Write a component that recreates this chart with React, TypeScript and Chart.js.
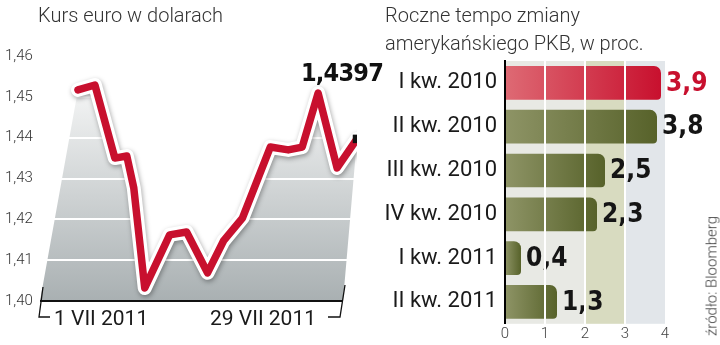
import React, { useEffect, useRef } from "react";
import { Chart, registerables } from "chart.js";

Chart.register(...registerables);

// ---- Left chart: EUR/USD in July 2011 ----
const rateDays = [1, 2.7, 4.7, 5.9, 6.6, 7.7, 10.2, 11.9, 14, 15.6, 17.5, 20.3, 22.1, 23.5, 25.1, 27, 29];
const rateValues = [1.4517, 1.4529, 1.435, 1.4355, 1.4277, 1.4032, 1.4162, 1.4169, 1.4069, 1.4147, 1.4203, 1.4377, 1.437, 1.4377, 1.4509, 1.4326, 1.4397];
const rateMin = 1.4;
const rateMax = 1.46;
const rateStep = 0.01;
const dateLabels = ["1 VII 2011", "29 VII 2011"];
const lastValueLabel = "1,4397";
const leftTitle = "Kurs euro w dolarach";

// ---- Right chart: US GDP growth ----
const quarters = ["I kw. 2010", "II kw. 2010", "III kw. 2010", "IV kw. 2010", "I kw. 2011", "II kw. 2011"];
const gdpValues = [3.9, 3.8, 2.5, 2.3, 0.4, 1.3];
const gdpMin = 0;
const gdpMax = 4;
const rightTitle = ["Roczne tempo zmiany", "amerykańskiego PKB, w proc."];
const sourceText = "źródło: Bloomberg";

const LIGHT = "Roboto, 'Noto Sans', sans-serif";
const NARROW = "'Liberation Sans Narrow', 'DejaVu Sans Condensed', 'Roboto', sans-serif";
const RED = "#c8102e";

const comma = (v: number, d: number) => v.toFixed(d).replace(".", ",");

export default function App() {
  const leftRef = useRef<HTMLCanvasElement | null>(null);
  const rightRef = useRef<HTMLCanvasElement | null>(null);

  useEffect(() => {
    const areaPlugin = {
      id: "area",
      beforeDraw(chart: any) {
        const { ctx, chartArea, scales } = chart;
        const x = scales.x;
        const y = scales.y;
        const pts = rateDays.map((d, i) => [x.getPixelForValue(d), y.getPixelForValue(rateValues[i])]);
        const last = pts[pts.length - 1];
        ctx.save();
        const g = ctx.createLinearGradient(0, y.getPixelForValue(1.452), 0, chartArea.bottom);
        g.addColorStop(0, "#f4f5f5");
        g.addColorStop(1, "#a9b0b2");
        ctx.beginPath();
        ctx.moveTo(chartArea.left, chartArea.bottom);
        pts.forEach((p) => ctx.lineTo(p[0], p[1]));
        ctx.lineTo(last[0] - 14, chartArea.bottom);
        ctx.closePath();
        ctx.fillStyle = g;
        ctx.fill();
        ctx.restore();
      },
      afterDraw(chart: any) {
        const { ctx, chartArea, scales } = chart;
        const x = scales.x;
        const b = chartArea.bottom;
        const L = chartArea.left;
        const R = x.getPixelForValue(rateDays[rateDays.length - 1]) - 14;
        ctx.save();
        ctx.strokeStyle = "#111";
        ctx.lineWidth = 2;
        ctx.beginPath();
        ctx.moveTo(L, b);
        ctx.lineTo(R, b);
        ctx.stroke();
        ctx.lineWidth = 1.3;
        ctx.beginPath();
        ctx.moveTo(L + 3, b - 14);
        ctx.lineTo(L - 1, b + 16);
        ctx.lineTo(L + 10, b + 16);
        ctx.stroke();
        ctx.beginPath();
        ctx.moveTo(R + 2, b - 16);
        ctx.lineTo(R - 3, b + 16);
        ctx.lineTo(R - 15, b + 16);
        ctx.stroke();
        ctx.restore();
      },
      beforeDatasetDraw(chart: any, args: any) {
        if (args.index === 0) {
          const ctx = chart.ctx;
          ctx.save();
          ctx.shadowColor = "rgba(0,0,0,0.35)";
          ctx.shadowBlur = 5;
          ctx.shadowOffsetX = 1;
          ctx.shadowOffsetY = 2;
        }
      },
      afterDatasetDraw(chart: any, args: any) {
        if (args.index === 0) chart.ctx.restore();
      },
    };

    const points = rateDays.map((d, i) => ({ x: d, y: rateValues[i] }));
    const lastIdx = points.length - 1;

    const left = new Chart(leftRef.current as HTMLCanvasElement, {
      type: "line",
      data: {
        datasets: [
          {
            data: points.map((p) => ({ ...p })),
            order: 2,
            borderColor: "#ffffff",
            borderWidth: 14,
            pointRadius: 0,
            borderCapStyle: "round",
            borderJoinStyle: "round",
            fill: false,
            tension: 0,
          },
          {
            data: points.map((p) => ({ ...p })),
            order: 1,
            borderColor: RED,
            borderWidth: 7.5,
            pointRadius: (c: any) => (c.dataIndex === lastIdx ? 6 : 0),
            pointStyle: "rect",
            pointBackgroundColor: "#111",
            pointBorderColor: "#111",
            pointBorderWidth: 0,
            borderCapStyle: "round",
            borderJoinStyle: "round",
            fill: false,
            tension: 0,
          },
        ],
      } as any,
      options: {
        responsive: false,
        animation: false,
        layout: { padding: { left: 5, top: 56, right: 13, bottom: 44 } },
        plugins: { legend: { display: false }, tooltip: { enabled: false } },
        scales: {
          x: { type: "linear", display: false, min: -2.81, max: 29 },
          y: {
            min: rateMin,
            max: rateMax,
            afterFit: (s: any) => {
              s.width = 35;
            },
            ticks: {
              stepSize: rateStep,
              crossAlign: "far",
              padding: 0,
              color: "#333",
              font: { family: LIGHT, size: 15, weight: "300" },
              callback: (v: any) => comma(Number(v), 2),
            },
            grid: { color: "#ffffff", lineWidth: 2, drawTicks: false },
            border: { display: false },
          },
        },
      } as any,
      plugins: [areaPlugin],
    });

    const bgPlugin = {
      id: "bg",
      beforeDraw(chart: any) {
        const { ctx, chartArea, scales } = chart;
        const x = scales.x;
        const t = chartArea.top;
        const h = chartArea.bottom - chartArea.top;
        const cols: [number, number, string][] = [
          [0, 2, "#e8e9e4"],
          [2, 3, "#d8dbc0"],
          [3, 4, "#e2e6ea"],
        ];
        ctx.save();
        cols.forEach(([a, b, c]) => {
          const xa = x.getPixelForValue(a);
          const xb = x.getPixelForValue(b);
          ctx.fillStyle = c;
          ctx.fillRect(xa, t, xb - xa, h);
        });
        ctx.restore();
      },
      afterDatasetsDraw(chart: any) {
        const { ctx } = chart;
        const meta = chart.getDatasetMeta(0);
        ctx.save();
        ctx.font = `bold 26px ${NARROW}`;
        ctx.textAlign = "left";
        ctx.textBaseline = "middle";
        meta.data.forEach((bar: any, i: number) => {
          ctx.fillStyle = i === 0 ? RED : "#151515";
          ctx.fillText(comma(gdpValues[i], 1), bar.x + 5, bar.y + 1);
        });
        ctx.restore();
      },
    };

    const barColor = (c: any) => {
      const chart = c.chart;
      const { chartArea } = chart;
      const isRed = c.dataIndex === 0;
      if (!chartArea) return isRed ? RED : "#6b7438";
      const x0 = chart.scales.x.getPixelForValue(0);
      const x1 = chart.scales.x.getPixelForValue(gdpValues[c.dataIndex]);
      const g = chart.ctx.createLinearGradient(x0, 0, Math.max(x1, x0 + 1), 0);
      if (isRed) {
        g.addColorStop(0, "#de6a74");
        g.addColorStop(1, "#c8102e");
      } else {
        g.addColorStop(0, "#8e9466");
        g.addColorStop(1, "#57622a");
      }
      return g;
    };

    const right = new Chart(rightRef.current as HTMLCanvasElement, {
      type: "bar",
      data: {
        labels: quarters,
        datasets: [
          {
            data: gdpValues,
            backgroundColor: barColor,
            barPercentage: 0.77,
            categoryPercentage: 1,
            borderRadius: { topRight: 7, bottomRight: 4, topLeft: 0, bottomLeft: 0 },
            borderSkipped: false,
          },
        ],
      } as any,
      options: {
        indexAxis: "y",
        responsive: false,
        animation: false,
        layout: { padding: { top: 61, right: 55, left: 0, bottom: 0 } },
        plugins: { legend: { display: false }, tooltip: { enabled: false } },
        scales: {
          x: {
            min: gdpMin,
            max: gdpMax,
            afterFit: (s: any) => {
              s.height = 19;
            },
            ticks: {
              stepSize: 1,
              padding: 1,
              color: "#444",
              font: { family: LIGHT, size: 15, weight: "300" },
            },
            grid: {
              z: 1,
              color: (c: any) => (c.tick && c.tick.value > gdpMin && c.tick.value < gdpMax ? "#ffffff" : "rgba(0,0,0,0)"),
              lineWidth: 2,
              drawTicks: false,
            },
            border: { display: false },
          },
          y: {
            afterFit: (s: any) => {
              s.width = 135;
            },
            ticks: {
              padding: 8,
              color: "#1a1a1a",
              font: { family: LIGHT, size: 22, weight: "400" },
            },
            grid: { display: false, drawTicks: false },
            border: { display: true, color: "#000", width: 2, z: 2 },
          },
        },
      } as any,
      plugins: [bgPlugin],
    });

    return () => {
      left.destroy();
      right.destroy();
    };
  }, []);

  const textBase: React.CSSProperties = {
    position: "absolute",
    whiteSpace: "nowrap",
    fontFamily: LIGHT,
    color: "#333",
    lineHeight: 1,
  };

  return (
    <div style={{ position: "fixed", left: 0, top: 0, width: 720, height: 345, background: "#fff", overflow: "hidden" }}>
      <canvas ref={leftRef} width={370} height={345} style={{ position: "absolute", left: 0, top: 0 }} />
      <canvas ref={rightRef} width={350} height={345} style={{ position: "absolute", left: 370, top: 0 }} />
      <div style={{ ...textBase, left: 38, top: 5, fontSize: 20, fontWeight: 300 }}>{leftTitle}</div>
      <div style={{ ...textBase, left: 385, top: 5, fontSize: 20, fontWeight: 300 }}>{rightTitle[0]}</div>
      <div style={{ ...textBase, left: 385, top: 33, fontSize: 20, fontWeight: 300 }}>{rightTitle[1]}</div>
      <div style={{ ...textBase, left: 54, top: 308, fontSize: 21, fontWeight: 400, color: "#1a1a1a" }}>{dateLabels[0]}</div>
      <div style={{ ...textBase, left: 210, top: 308, fontSize: 21, fontWeight: 400, color: "#1a1a1a" }}>{dateLabels[1]}</div>
      <div style={{ ...textBase, left: 301, top: 60, fontSize: 25, fontWeight: 700, color: "#111", fontFamily: NARROW, letterSpacing: -0.8 }}>{lastValueLabel}</div>
      <div
        style={{
          ...textBase,
          left: 712,
          top: 276,
          fontSize: 15,
          fontWeight: 300,
          color: "#444",
          transform: "translate(-50%, -50%) rotate(-90deg)",
        }}
      >
        {sourceText}
      </div>
    </div>
  );
}
